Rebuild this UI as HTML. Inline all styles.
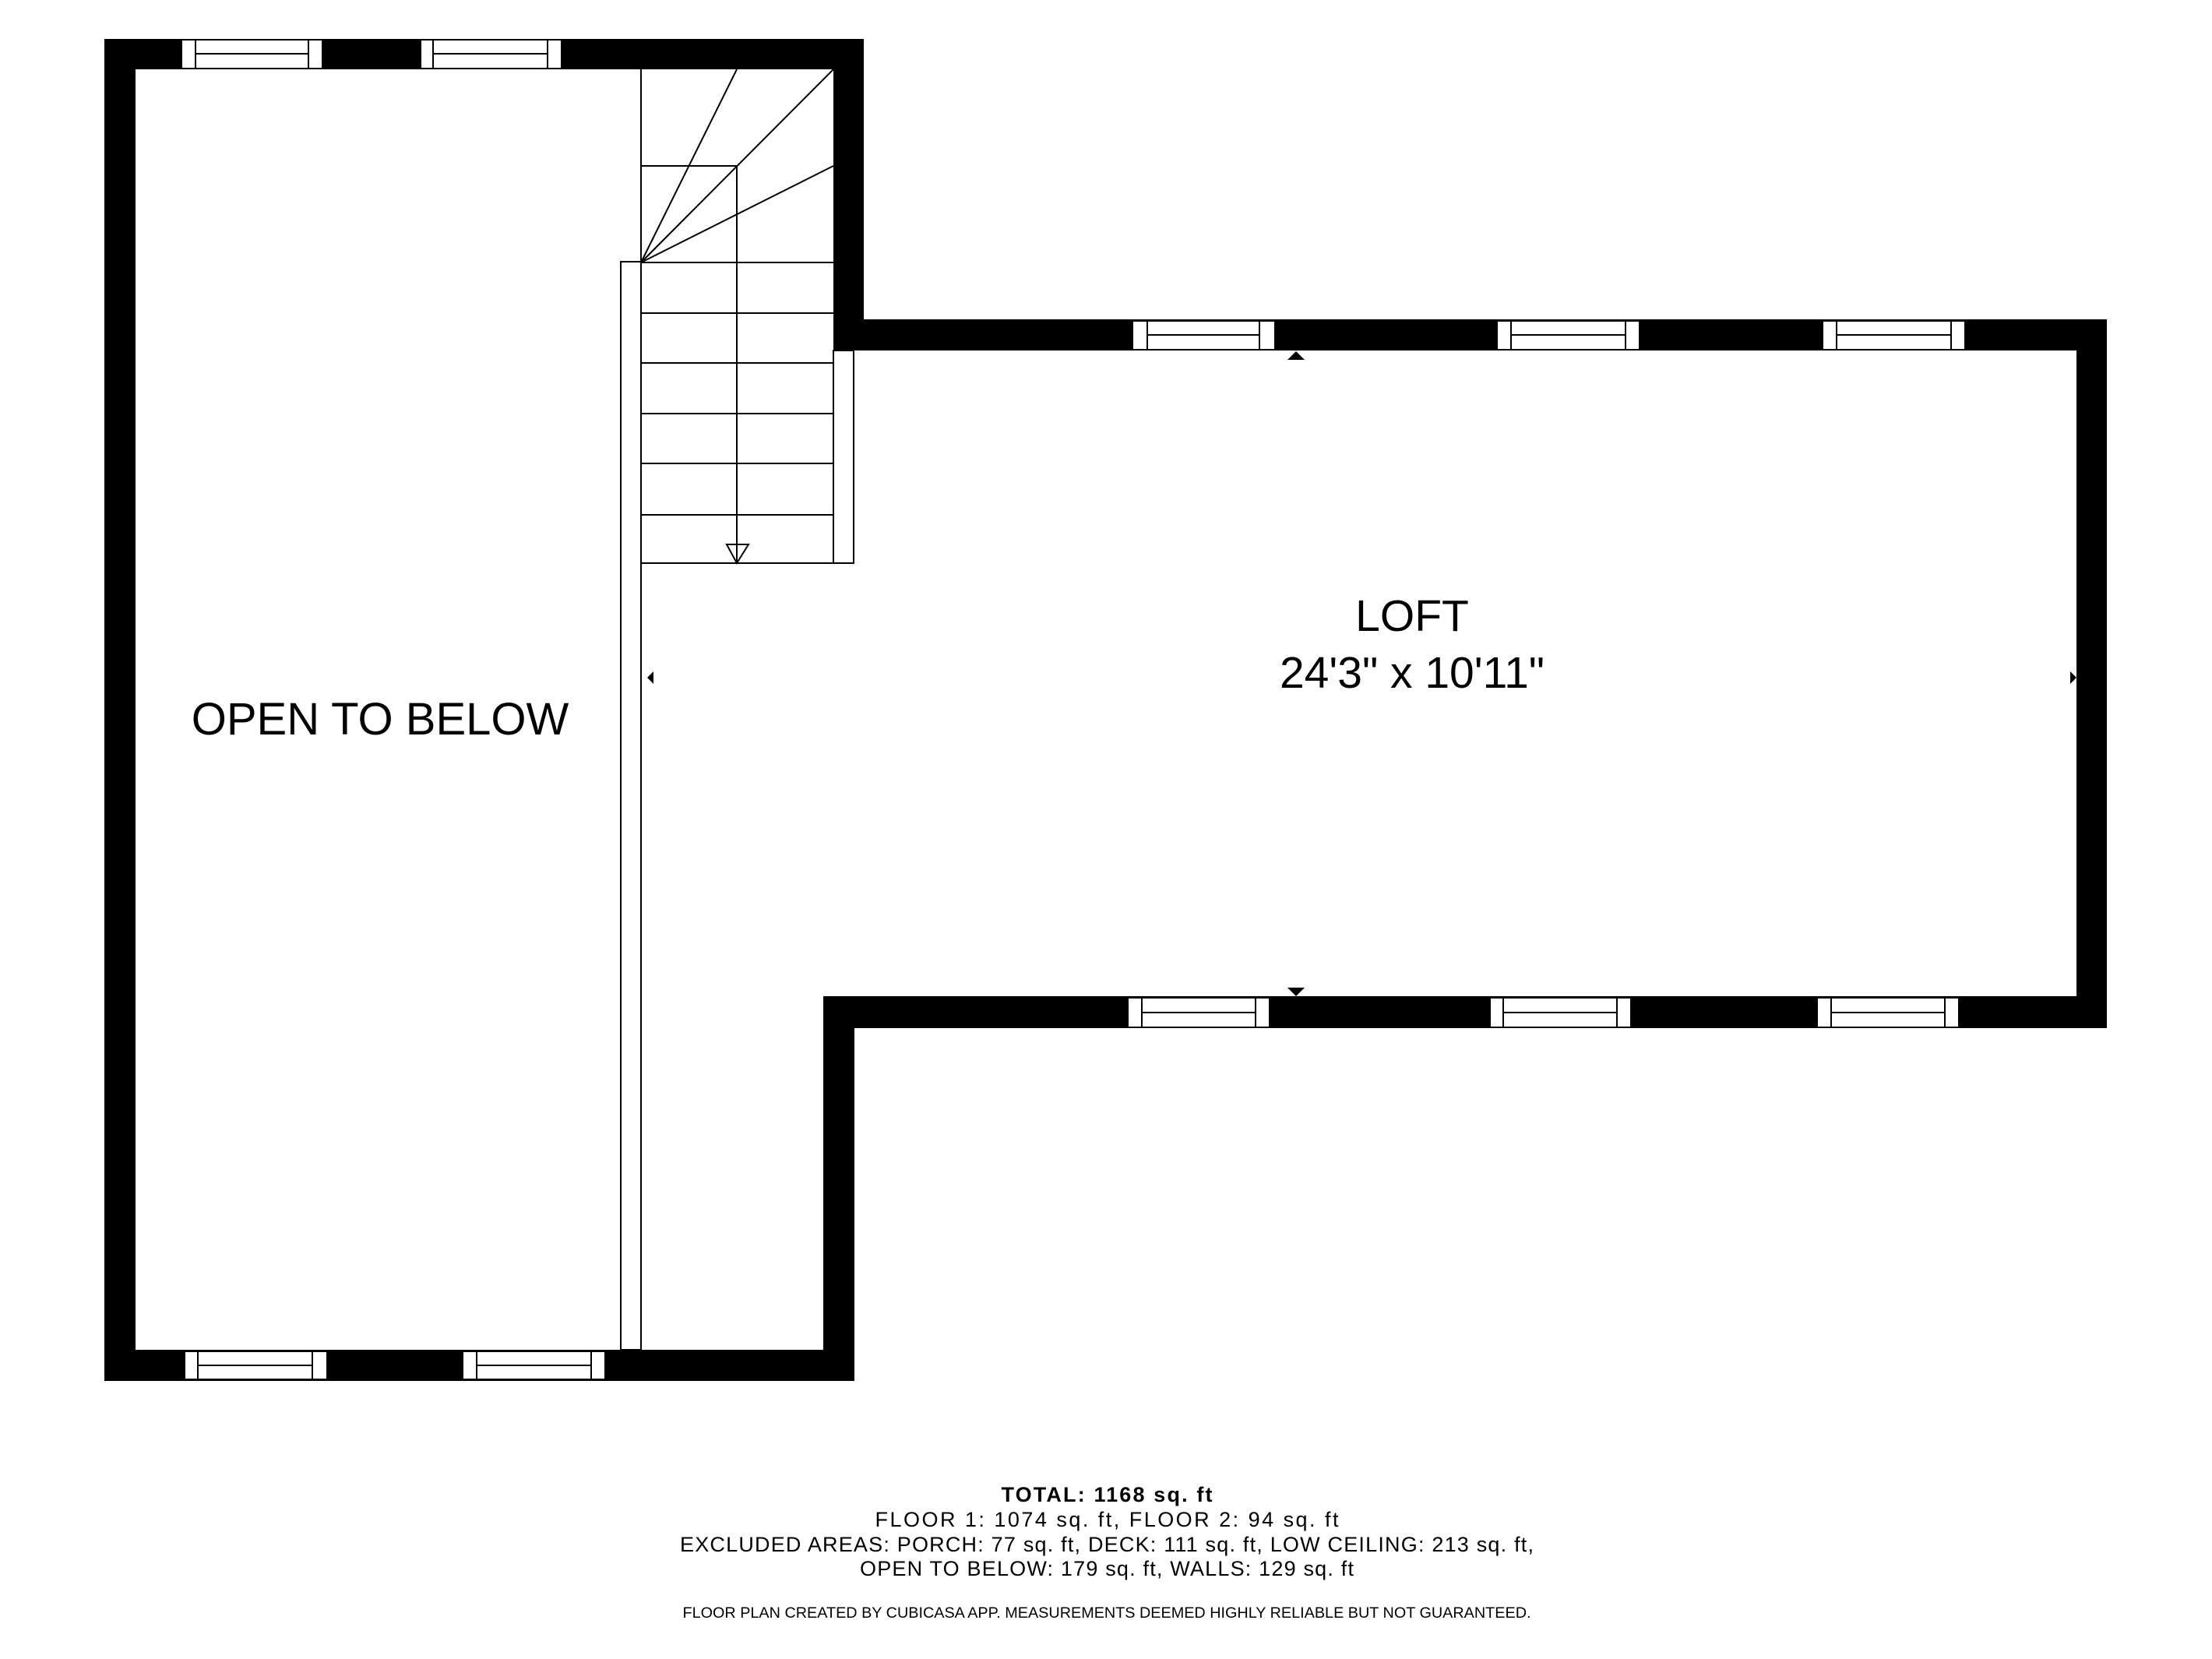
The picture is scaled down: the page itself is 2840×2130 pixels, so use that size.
<!DOCTYPE html>
<html><head><meta charset="utf-8"><style>
html,body{margin:0;padding:0;background:#fff;}
svg{display:block;}
text{font-family:"Liberation Sans",sans-serif;fill:#000;}
</style></head><body>
<svg width="2840" height="2130" viewBox="0 0 2840 2130" xmlns="http://www.w3.org/2000/svg">
<rect width="2840" height="2130" fill="#fff"/>
<g fill="#000">
<rect x="134" y="50" width="40" height="1723"/>
<rect x="134" y="50" width="975" height="39"/>
<rect x="1070" y="50" width="39" height="400"/>
<rect x="134" y="1733" width="963" height="40"/>
<rect x="1057" y="1279" width="40" height="494"/>
<rect x="1070" y="410" width="1635" height="40"/>
<rect x="2666" y="410" width="39" height="910"/>
<rect x="1057" y="1279" width="1648" height="41"/>
</g>
<g fill="#fff" stroke="#000" stroke-width="2">
<rect x="233" y="51" width="181" height="37"/><line x1="251" y1="51" x2="251" y2="88"/><line x1="396" y1="51" x2="396" y2="88"/><line x1="251" y1="69" x2="396" y2="69"/>
<rect x="540" y="51" width="181" height="37"/><line x1="556" y1="51" x2="556" y2="88"/><line x1="703" y1="51" x2="703" y2="88"/><line x1="556" y1="69" x2="703" y2="69"/>
<rect x="237" y="1735" width="183" height="36"/><line x1="254" y1="1735" x2="254" y2="1771"/><line x1="401" y1="1735" x2="401" y2="1771"/><line x1="254" y1="1753" x2="401" y2="1753"/>
<rect x="594" y="1735" width="183" height="36"/><line x1="612" y1="1735" x2="612" y2="1771"/><line x1="759" y1="1735" x2="759" y2="1771"/><line x1="612" y1="1753" x2="759" y2="1753"/>
<rect x="1454" y="412" width="183" height="37"/><line x1="1473" y1="412" x2="1473" y2="449"/><line x1="1617" y1="412" x2="1617" y2="449"/><line x1="1473" y1="430" x2="1617" y2="430"/>
<rect x="1922" y="412" width="183" height="37"/><line x1="1940" y1="412" x2="1940" y2="449"/><line x1="2087" y1="412" x2="2087" y2="449"/><line x1="1940" y1="430" x2="2087" y2="430"/>
<rect x="2340" y="412" width="183" height="37"/><line x1="2358" y1="412" x2="2358" y2="449"/><line x1="2505" y1="412" x2="2505" y2="449"/><line x1="2358" y1="430" x2="2505" y2="430"/>
<rect x="1448" y="1281" width="182" height="38"/><line x1="1466" y1="1281" x2="1466" y2="1319"/><line x1="1612" y1="1281" x2="1612" y2="1319"/><line x1="1466" y1="1300" x2="1612" y2="1300"/>
<rect x="1913" y="1281" width="181" height="38"/><line x1="1930" y1="1281" x2="1930" y2="1319"/><line x1="2076" y1="1281" x2="2076" y2="1319"/><line x1="1930" y1="1300" x2="2076" y2="1300"/>
<rect x="2333" y="1281" width="182" height="38"/><line x1="2351" y1="1281" x2="2351" y2="1319"/><line x1="2497" y1="1281" x2="2497" y2="1319"/><line x1="2351" y1="1300" x2="2497" y2="1300"/>
</g>
<g stroke="#000" stroke-width="2" fill="none">
<line x1="823" y1="89" x2="823" y2="723"/>
<line x1="946" y1="213" x2="946" y2="723"/>
<line x1="823" y1="213" x2="946" y2="213"/>
<line x1="823" y1="337" x2="946" y2="89"/>
<line x1="823" y1="337" x2="1070" y2="89"/>
<line x1="823" y1="337" x2="1070" y2="213"/>
<line x1="823" y1="337" x2="1070" y2="337"/>
<line x1="823" y1="402" x2="1070" y2="402"/>
<line x1="823" y1="466" x2="1070" y2="466"/>
<line x1="823" y1="531" x2="1070" y2="531"/>
<line x1="823" y1="595" x2="1070" y2="595"/>
<line x1="823" y1="661" x2="1070" y2="661"/>
<line x1="823" y1="723" x2="1096" y2="723"/>
<polygon points="933,699 961,699 946,723"/>
<rect x="797" y="336" width="26" height="1397" fill="#fff"/>
<rect x="1070" y="450" width="26" height="273" fill="#fff"/>
</g>
<g fill="#000">
<polygon points="1653,462 1675,462 1664,451"/>
<polygon points="1653,1268 1675,1268 1664,1279"/>
<polygon points="831,870 839,862 839,878"/>
<polygon points="2666,870 2658,862 2658,878"/>
</g>
<text x="488" y="943" font-size="58" text-anchor="middle">OPEN TO BELOW</text>
<text x="1813" y="810" font-size="57" text-anchor="middle">LOFT</text>
<text x="1813" y="883" font-size="57" text-anchor="middle">24'3" x 10'11"</text>
<g font-size="27" text-anchor="middle" lengthAdjust="spacingAndGlyphs">
<text x="1421" y="1928" font-weight="bold" textLength="271">TOTAL: 1168 sq. ft</text>
<text x="1421" y="1960" textLength="595">FLOOR 1: 1074 sq. ft, FLOOR 2: 94 sq. ft</text>
<text x="1421" y="1992" textLength="1096">EXCLUDED AREAS: PORCH: 77 sq. ft, DECK: 111 sq. ft, LOW CEILING: 213 sq. ft,</text>
<text x="1421" y="2023" textLength="634">OPEN TO BELOW: 179 sq. ft, WALLS: 129 sq. ft</text>
</g>
<text x="1421" y="2077" font-size="19" text-anchor="middle" textLength="1089" lengthAdjust="spacingAndGlyphs">FLOOR PLAN CREATED BY CUBICASA APP. MEASUREMENTS DEEMED HIGHLY RELIABLE BUT NOT GUARANTEED.</text>
</svg>
</body></html>
